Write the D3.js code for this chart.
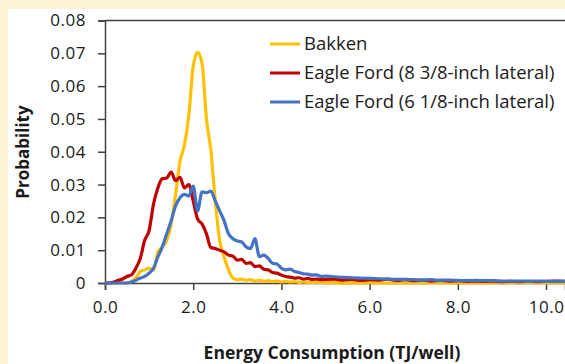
<!DOCTYPE html>
<html lang="en">
<head>
    <meta charset="UTF-8">
    <title>Energy consumption distribution</title>
    <script src="https://cdn.jsdelivr.net/npm/d3@7"></script>
    <style>
        body { margin: 0; background: #fdf1d6; }
        text { font-family: "Open Sans", sans-serif; fill: #1a1a1a; }
        .axis-title { font-weight: bold; }
    </style>
</head>
<body>
<div id="chart"></div>
<script>
    // energy grid (TJ/well)
    const energy = [
        0.0, 0.1, 0.2, 0.3, 0.4, 0.5, 0.6, 0.7, 0.8, 0.9,
        1.0, 1.1, 1.2, 1.3, 1.4, 1.5, 1.6, 1.7, 1.8, 1.9,
        2.0, 2.1, 2.2, 2.3, 2.4, 2.5, 2.6, 2.7, 2.8, 2.9,
        3.0, 3.1, 3.2, 3.3, 3.4, 3.5, 3.6, 3.7, 3.8, 3.9,
        4.0, 4.1, 4.2, 4.3, 4.4, 4.5, 4.6, 4.7, 4.8, 4.9,
        5.0, 5.2, 5.4, 5.6, 5.8, 6.0, 6.2, 6.4, 6.6, 6.8,
        7.0, 7.2, 7.4, 7.6, 7.8, 8.0, 8.2, 8.4, 8.6, 8.8,
        9.0, 9.2, 9.4, 9.6, 9.8, 10.0, 10.2, 10.4, 10.6
    ];

    const bakken = [
        0, 0, 0, 0, 0, 0, 0.0005, 0.0015, 0.0035, 0.004,
        0.0045, 0.004, 0.0095, 0.011, 0.013, 0.018, 0.027, 0.037, 0.042, 0.051,
        0.066, 0.0703, 0.067, 0.050, 0.0405, 0.025, 0.013, 0.008, 0.004, 0.0015,
        0.001, 0.0012, 0.0008, 0.001, 0.0006, 0.0008, 0.0005, 0.0007, 0.0004, 0.0006,
        0.0003, 0.0005, 0.0003, 0.0004, 0.0002, 0.0003, 0.0002, 0.0002, 0.0001, 0.0002,
        0.0001, 0.0001, 0, 0.0001, 0, 0.0001, 0, 0, 0.0001, 0,
        0, 0, 0, 0, 0, 0, 0, 0, 0, 0,
        0, 0, 0, 0, 0, 0, 0, 0, 0
    ];

    const eagle838 = [
        0, 0, 0.0003, 0.0008, 0.0012, 0.002, 0.0025, 0.0045, 0.0075, 0.013,
        0.016, 0.024, 0.029, 0.0318, 0.032, 0.0338, 0.0312, 0.0322, 0.029, 0.030,
        0.025, 0.0195, 0.018, 0.015, 0.0108, 0.0105, 0.010, 0.0095, 0.0085, 0.0082,
        0.007, 0.0072, 0.006, 0.0062, 0.005, 0.0052, 0.0042, 0.004, 0.0032, 0.003,
        0.0024, 0.002, 0.0018, 0.0015, 0.0016, 0.0012, 0.0014, 0.0011, 0.0012, 0.001,
        0.0011, 0.0012, 0.0009, 0.0011, 0.0008, 0.001, 0.0009, 0.0012, 0.0008, 0.001,
        0.0007, 0.0009, 0.0006, 0.0008, 0.0006, 0.0007, 0.0005, 0.0006, 0.0005, 0.0006,
        0.0004, 0.0005, 0.0004, 0.0005, 0.0004, 0.0005, 0.0006, 0.0005, 0.0005
    ];

    const eagle618 = [
        0, 0, 0, 0, 0, 0, 0.0003, 0.0008, 0.0015, 0.002,
        0.003, 0.0045, 0.008, 0.011, 0.015, 0.019, 0.0235, 0.026, 0.027, 0.0265,
        0.0295, 0.022, 0.0278, 0.0275, 0.028, 0.025, 0.022, 0.019, 0.015, 0.0135,
        0.0128, 0.0125, 0.011, 0.0105, 0.0135, 0.008, 0.0085, 0.0075, 0.006, 0.0058,
        0.0045, 0.004, 0.0042, 0.0035, 0.0032, 0.0028, 0.0027, 0.0024, 0.0025, 0.002,
        0.0021, 0.0019, 0.0017, 0.0016, 0.0015, 0.0014, 0.0013, 0.0012, 0.0011, 0.0011,
        0.001, 0.0009, 0.001, 0.0008, 0.0009, 0.0008, 0.0007, 0.0008, 0.0007, 0.0007,
        0.0006, 0.0006, 0.0006, 0.0005, 0.0006, 0.0005, 0.0005, 0.0005, 0.0005
    ];

    const seriesNames = ["Bakken", "Eagle Ford (8 3/8-inch lateral)", "Eagle Ford (6 1/8-inch lateral)"];
    const seriesColors = ["#ffc000", "#c00000", "#4472c4"];
    const yTicks = [0, 0.01, 0.02, 0.03, 0.04, 0.05, 0.06, 0.07, 0.08];
    const xTicks = [0, 2, 4, 6, 8, 10];

    const width = 565;
    const height = 364;

    const svg = d3.select("#chart")
        .append("svg")
        .attr("width", width)
        .attr("height", height);

    // white chart panel on the cream page
    svg.append("rect")
        .attr("x", 8).attr("y", 9)
        .attr("width", width - 8).attr("height", height - 9)
        .attr("fill", "#ffffff");

    const x = d3.scaleLinear().domain([0, 10.43]).range([105, 565]);
    const y = d3.scaleLinear().domain([0, 0.08]).range([283, 20.5]);

    svg.append("defs").append("clipPath").attr("id", "plot-clip")
        .append("rect")
        .attr("x", 105).attr("y", 10)
        .attr("width", 460).attr("height", 280);

    // top border of plot area
    svg.append("line")
        .attr("x1", 105).attr("x2", width)
        .attr("y1", y(0.08)).attr("y2", y(0.08))
        .attr("stroke", "#404040").attr("stroke-width", 1.3);

    const yAxis = svg.append("g")
        .attr("transform", "translate(105,0)")
        .call(d3.axisLeft(y).tickValues(yTicks).tickSize(7).tickPadding(12)
            .tickFormat(d => d === 0 ? "0" : d3.format(".2f")(d)));

    const xAxis = svg.append("g")
        .attr("transform", "translate(0," + y(0) + ")")
        .call(d3.axisBottom(x).tickValues(xTicks).tickSize(7).tickPadding(11)
            .tickFormat(d3.format(".1f")));

    [yAxis, xAxis].forEach(function (g) {
        g.select(".domain").attr("stroke", "#404040").attr("stroke-width", 1.5);
        g.selectAll(".tick line").attr("stroke", "#404040").attr("stroke-width", 1.5);
        g.selectAll(".tick text")
            .style("font-family", "'Open Sans', sans-serif")
            .style("font-size", "17px")
            .style("letter-spacing", "0.5px")
            .attr("fill", "#1a1a1a");
    });

    const line = d3.line()
        .x(function (d) { return x(d[0]); })
        .y(function (d) { return y(d[1]); })
        .curve(d3.curveMonotoneX);

    const plot = svg.append("g").attr("clip-path", "url(#plot-clip)");
    [bakken, eagle838, eagle618].forEach(function (values, i) {
        plot.append("path")
            .datum(energy.map(function (e, j) { return [e, values[j]]; }))
            .attr("fill", "none")
            .attr("stroke", seriesColors[i])
            .attr("stroke-width", 3.2)
            .attr("stroke-linejoin", "round")
            .attr("d", line);
    });

    // legend
    const legend = svg.append("g");
    seriesNames.forEach(function (name, i) {
        const rowY = 44 + i * 29;
        legend.append("line")
            .attr("x1", 270).attr("x2", 300)
            .attr("y1", rowY).attr("y2", rowY)
            .attr("stroke", seriesColors[i]).attr("stroke-width", 3);
        legend.append("text")
            .attr("x", 304).attr("y", rowY)
            .attr("dy", "0.35em")
            .style("font-size", "18.5px")
            .text(name);
    });

    svg.append("text")
        .attr("class", "axis-title")
        .attr("x", 332).attr("y", 359)
        .attr("text-anchor", "middle")
        .style("font-size", "17.5px")
        .text("Energy Consumption (TJ/well)");

    svg.append("text")
        .attr("class", "axis-title")
        .attr("transform", "translate(29,152) rotate(-90)")
        .attr("text-anchor", "middle")
        .style("font-size", "17px")
        .text("Probability");
</script>
</body>
</html>
